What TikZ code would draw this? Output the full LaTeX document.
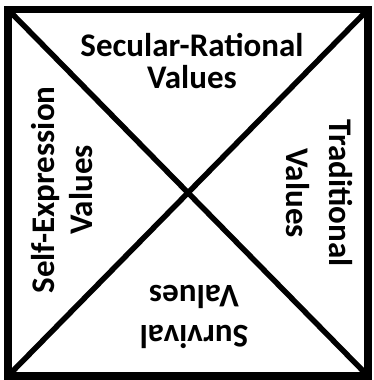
\documentclass[tikz,border=0pt]{standalone}
\usepackage{fontspec}
\setmainfont{Carlito}
\begin{document}
\begin{tikzpicture}[x=1pt,y=-1pt,
  lbl/.style={font=\fontsize{33}{#1}\selectfont\bfseries, align=center, inner sep=0pt}]
\useasboundingbox (0,0) rectangle (373,380);
\coordinate (tl) at (8,9.5);
\coordinate (tr) at (368,9.5);
\coordinate (br) at (368,376);
\coordinate (bl) at (8,376);
\draw[line width=7.5pt, line join=miter] (tl) -- (tr) -- (br) -- (bl) -- cycle;
\draw[line width=5.5pt] (tl) -- (br);
\draw[line width=5.5pt] (tr) -- (bl);
\node[lbl=32] (sec) at (192,61) {Secular-Rational\\Values};
\node[lbl=38, rotate=90] (self) at (62,190) {Self-Expression\\Values};
\node[lbl=43, rotate=-90] (trad) at (319,193) {Traditional\\Values};
\node[lbl=40, rotate=180] (surv) at (194,317) {Survival\\Values};
\end{tikzpicture}
\end{document}
